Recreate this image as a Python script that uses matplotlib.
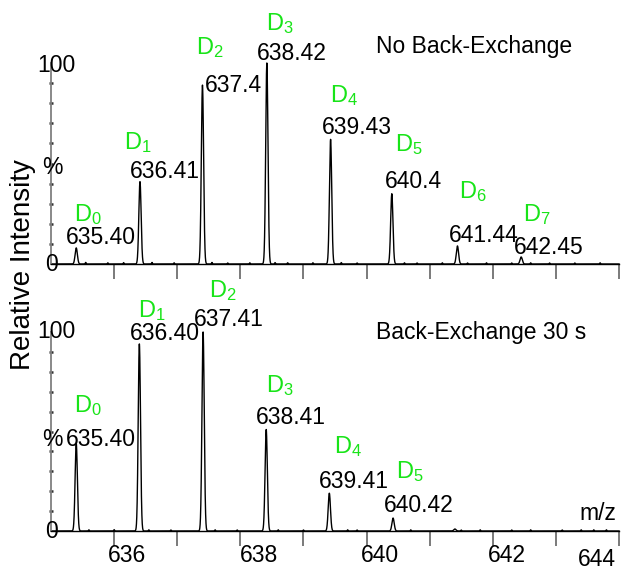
import numpy as np
import matplotlib
matplotlib.use("Agg")
import matplotlib.pyplot as plt

plt.rcParams['font.family'] = ['Liberation Sans', 'DejaVu Sans']
plt.rcParams['mathtext.fontset'] = 'custom'
plt.rcParams['mathtext.rm'] = 'Liberation Sans'

# ---------------- data ----------------
top_mz = [635.40, 636.41, 637.40, 638.42, 639.43, 640.40, 641.44, 642.45]
top_int = [8, 41, 89, 100, 62, 35, 9, 3.5]
top_mz_labels = ["635.40", "636.41", "637.4", "638.42", "639.43", "640.4", "641.44", "642.45"]
top_d_labels = ["0", "1", "2", "3", "4", "5", "6", "7"]

bot_mz = [635.40, 636.40, 637.41, 638.41, 639.41, 640.42, 641.40]
bot_int = [44, 94, 100, 51, 19, 6.5, 1]
bot_mz_labels = ["635.40", "636.40", "637.41", "638.41", "639.41", "640.42"]
bot_d_labels = ["0", "1", "2", "3", "4", "5"]

noise_top_mz = [635.55, 635.9, 636.15, 636.6, 636.95, 637.55, 637.8, 638.15, 638.55, 638.75,
                639.15, 639.6, 639.85, 640.6, 640.8, 641.2, 641.6, 641.9, 642.3, 642.6, 642.9, 643.3, 643.7]
noise_top_int = [0.8, 0.6, 0.7, 0.8, 0.6, 0.8, 0.5, 0.6, 0.7, 0.6,
                 0.6, 0.7, 0.5, 0.6, 0.5, 0.6, 0.5, 0.6, 0.5, 0.6, 0.5, 0.5, 0.6]
noise_bot_mz = [635.6, 636.0, 636.55, 636.9, 637.6, 637.95, 638.6, 639.0, 639.7, 639.85,
                640.7, 641.5, 641.8, 642.3, 642.6, 643.1, 643.4, 643.6, 643.8]
noise_bot_int = [0.6, 0.7, 0.6, 0.5, 0.6, 0.5, 0.6, 0.5, 0.6, 0.5,
                 0.6, 0.5, 0.6, 0.5, 0.6, 0.5, 0.6, 0.6, 0.6]

x_ticks = [636, 637, 638, 639, 640, 641, 642, 643, 644]
x_tick_labels = ["636", "638", "640", "642", "644"]

# ---------------- figure ----------------
W, H = 623, 571
fig = plt.figure(figsize=(W / 100, H / 100), dpi=100)
GREEN = '#18e418'


def fx(px):
    return px / W


def fy(py):
    return 1 - py / H


def profile(x, mzs, ints, sigma):
    y = np.zeros_like(x)
    for m, h in zip(mzs, ints):
        y += h * np.exp(-0.5 * ((x - m) / sigma) ** 2)
    return y


x = np.linspace(635.0, 644.0, 9001)


def setup(ax):
    ax.set_xlim(635.0, 644.0)
    ax.set_ylim(0, 100)
    for s in ['top', 'right']:
        ax.spines[s].set_visible(False)
    ax.spines['left'].set_color('#808080')
    ax.spines['left'].set_linewidth(1.3)
    ax.spines['bottom'].set_color('black')
    ax.spines['bottom'].set_linewidth(1.0)
    ax.set_xticks(x_ticks)
    ax.set_xticklabels([])
    ax.tick_params(axis='x', direction='out', length=11, width=1.3, color='#707070')
    ax.set_yticks([])
    ax.set_yticks(list(range(10, 100, 10)), minor=True)
    ax.tick_params(axis='y', which='minor', direction='inout', length=2.5, width=1.8, color='#333333')
    ax.patch.set_alpha(0)


# top panel
ax1 = fig.add_axes([fx(51), fy(264), (619 - 51) / W, 201 / H])
setup(ax1)
y1 = profile(x, top_mz, top_int, 0.018) + profile(x, noise_top_mz, noise_top_int, 0.006)
ax1.plot(x, y1, color='black', lw=1.0, clip_on=False)

# bottom panel
ax2 = fig.add_axes([fx(51), fy(531), (619 - 51) / W, 199 / H])
setup(ax2)
y2 = profile(x, bot_mz, bot_int, 0.018) + profile(x, noise_bot_mz, noise_bot_int, 0.006)
ax2.plot(x, y2, color='black', lw=1.0, clip_on=False)

FS = 16.5
DFS = 17

# y "tick" labels
for (tx, ty, t) in [(56, 65, "100"), (52, 167, "%"), (52, 265, "0"),
                    (56, 332, "100"), (52, 440, "%"), (52, 531, "0")]:
    fig.text(fx(tx), fy(ty), t, ha='center', va='center', fontsize=FS)

# peak labels (pixel centres)
top_num_pos = [(101, 237), (165, 172), (233, 85), (292, 54), (357, 127), (413, 182), (484, 235), (549, 247)]
top_d_pos = [(88, 215), (138, 143), (210, 48), (280, 24), (344, 96), (409, 145), (473, 192), (537, 215)]
bot_num_pos = [(101, 440), (165, 333), (229, 319), (291, 418), (354, 482), (419, 506)]
bot_d_pos = [(88, 406), (152, 311), (223, 291), (280, 386), (348, 447), (410, 472)]

for t, (px, py) in zip(top_mz_labels, top_num_pos):
    fig.text(fx(px), fy(py), t, ha='center', va='center', fontsize=FS)
for d, (px, py) in zip(top_d_labels, top_d_pos):
    fig.text(fx(px), fy(py), r'$\mathregular{D_{%s}}$' % d, ha='center', va='center',
             fontsize=DFS, color=GREEN)
for t, (px, py) in zip(bot_mz_labels, bot_num_pos):
    fig.text(fx(px), fy(py), t, ha='center', va='center', fontsize=FS)
for d, (px, py) in zip(bot_d_labels, bot_d_pos):
    fig.text(fx(px), fy(py), r'$\mathregular{D_{%s}}$' % d, ha='center', va='center',
             fontsize=DFS, color=GREEN)

# panel titles
fig.text(fx(376), fy(47), "No Back-Exchange", ha='left', va='center', fontsize=FS)
fig.text(fx(376), fy(333), "Back-Exchange 30 s", ha='left', va='center', fontsize=FS)
fig.text(fx(598), fy(513), "m/z", ha='center', va='center', fontsize=FS)

# x tick labels
for t, (px, py) in zip(x_tick_labels, [(127, 556), (259, 556), (380, 556), (507, 556), (597, 560)]):
    fig.text(fx(px), fy(py), t, ha='center', va='center', fontsize=FS)

# y-axis label
fig.text(fx(23), fy(265), "Relative Intensity", rotation=90, ha='center', va='center', fontsize=20)

fig.savefig("out.png", dpi=100)
